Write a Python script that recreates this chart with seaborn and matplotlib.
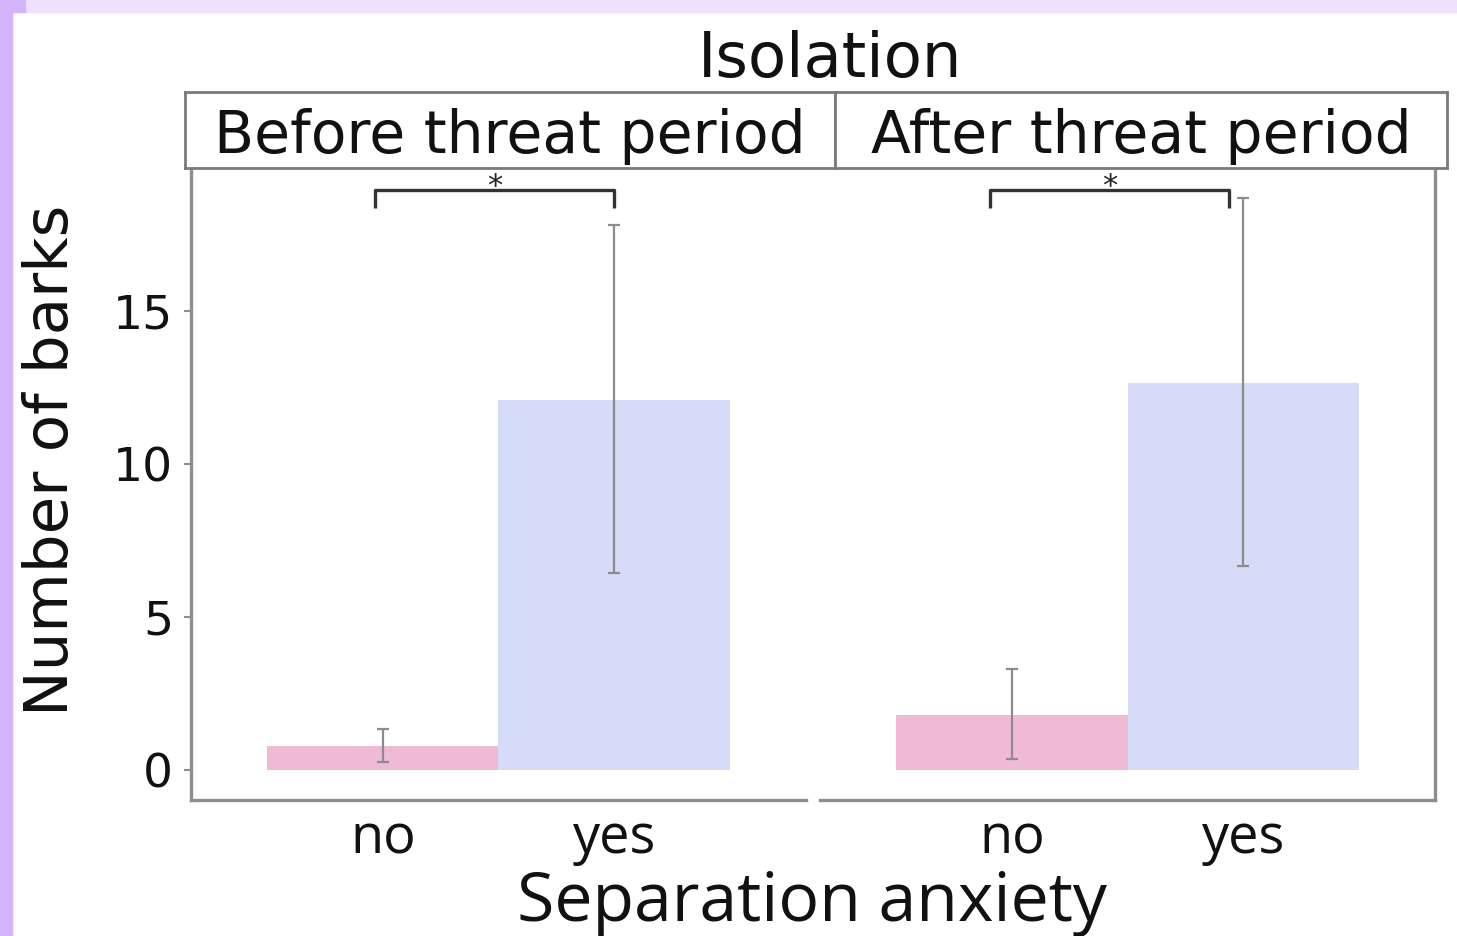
import matplotlib
matplotlib.use("Agg")
from matplotlib import pyplot as plt
from matplotlib.patches import Rectangle
import numpy as np
import pandas as pd
import seaborn as sns

# values
periods = ['Before threat period', 'After threat period']
anxiety = ['no', 'yes']
mean_barks = {'Before threat period': [0.78, 12.1],
              'After threat period': [1.80, 12.65]}
err_low = {'Before threat period': [0.27, 6.45],
           'After threat period': [0.36, 6.67]}
err_high = {'Before threat period': [1.33, 17.8],
            'After threat period': [3.30, 18.7]}
y_ticks = [0, 5, 10, 15]
signif = ['*', '*']

bar_colors = {'no': '#efbad6', 'yes': '#d6dbf7'}
sans = ['DejaVu Sans']
label_font = ['Open Sans', 'DejaVu Sans']

rows = []
for p in periods:
    for i, a in enumerate(anxiety):
        rows.append({'period': p, 'anxiety': a, 'barks': mean_barks[p][i],
                     'lo': err_low[p][i], 'hi': err_high[p][i]})
df = pd.DataFrame(rows)

sns.set_style('white')
W, H = 1457, 936
fig = plt.figure(figsize=(W / 100, H / 100), dpi=100)

# slide frame
fig.patches.append(Rectangle((0, 0), 12 / W, 1, transform=fig.transFigure,
                             color='#d4b4fc', zorder=0))
fig.patches.append(Rectangle((25 / W, 1 - 12 / H), 1 - 25 / W, 12 / H,
                             transform=fig.transFigure, color='#efe0fd', zorder=0))
fig.patches.append(Rectangle((0, 1 - 12 / H), 25 / W, 12 / H,
                             transform=fig.transFigure, color='#d4b4fc', zorder=0))

ax_l = fig.add_axes([191 / W, 1 - 800 / H, 615 / W, 632 / H])
ax_r = fig.add_axes([820 / W, 1 - 800 / H, 615 / W, 632 / H])
strips = [[185 / W, 1 - 168 / H, 650 / W, 76 / H],
          [835 / W, 1 - 168 / H, 612 / W, 76 / H]]
brackets = [(-0.035, 1.0), (-0.095, 0.94)]

spine_col = '#8e8e8e'
for k, (ax, p) in enumerate(zip([ax_l, ax_r], periods)):
    sub = df[df['period'] == p]
    sns.barplot(data=sub, x='anxiety', y='barks', hue='anxiety', palette=bar_colors,
                order=anxiety, width=1.0, errorbar=None, legend=False, ax=ax,
                saturation=1, linewidth=0)
    xs = np.arange(len(anxiety))
    ax.vlines(xs, sub['lo'], sub['hi'], color='#8c8c8c', lw=1.6, zorder=3)
    ax.hlines(sub['lo'], xs - 0.025, xs + 0.025, color='#8c8c8c', lw=1.6, zorder=3)
    ax.hlines(sub['hi'], xs - 0.025, xs + 0.025, color='#8c8c8c', lw=1.6, zorder=3)

    ax.set_xlim(-0.83, 1.83)
    ax.set_ylim(-0.98, 19.67)
    ax.set_xlabel('')
    ax.set_ylabel('')
    ax.set_xticks(xs)
    ax.set_xticklabels(anxiety, fontsize=39, family=label_font, color='#111111')
    ax.tick_params(axis='x', length=0, pad=8)
    for s in ax.spines.values():
        s.set_color(spine_col)
        s.set_linewidth(2.4)
    ax.spines['top'].set_visible(False)
    if k == 0:
        ax.spines['right'].set_visible(False)
        ax.set_yticks(y_ticks)
        ax.set_yticklabels([str(t) for t in y_ticks], fontsize=34, family=sans,
                           color='#111111')
        ax.tick_params(axis='y', length=5, width=1.5, color=spine_col, pad=8, left=True)
    else:
        ax.spines['left'].set_visible(False)
        ax.set_yticks([])

    # significance bracket
    x0, x1 = brackets[k]
    ax.plot([x0, x0, x1, x1], [18.37, 18.95, 18.95, 18.37], color='#333333',
            lw=2.4, solid_capstyle='butt', clip_on=False)
    ax.text((x0 + x1) / 2, 18.6, signif[k], ha='center', va='bottom',
            fontsize=22, family=sans)

    # facet strip
    sax = fig.add_axes(strips[k])
    sax.set_xticks([])
    sax.set_yticks([])
    for s in sax.spines.values():
        s.set_color('#7a7a7a')
        s.set_linewidth(2)
    sax.text(0.5, 0.42, p, ha='center', va='center', fontsize=42, family=sans,
             color='#111111', transform=sax.transAxes)

fig.text(830 / W, 1 - 60 / H, 'Isolation', ha='center', va='center',
         fontsize=45, family=sans, color='#111111')
fig.text(52 / W, 1 - 460 / H, 'Number of barks', ha='center', va='center',
         rotation=90, fontsize=44, family=sans, color='#111111')
fig.text(812 / W, 1 - 903 / H, 'Separation anxiety', ha='center', va='center',
         fontsize=49, family=label_font, color='#111111')

fig.savefig('out.png', dpi=100)
